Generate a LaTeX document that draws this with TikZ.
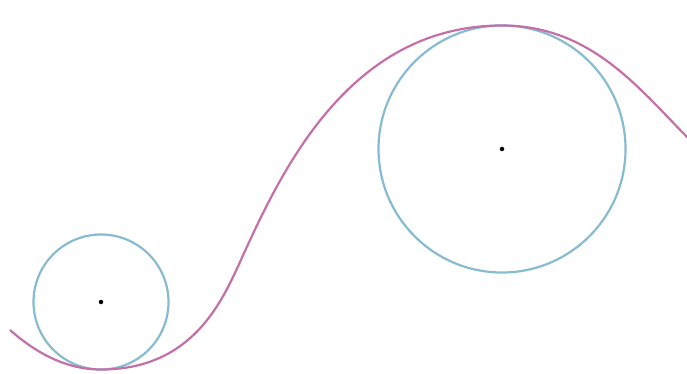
\documentclass[tikz,border=0pt]{standalone}
\begin{document}
\begin{tikzpicture}[x=1pt,y=-1pt,
  circ/.style={draw={rgb,255:red,135;green,188;blue,208},line width=2.2pt},
  curv/.style={draw={rgb,255:red,196;green,112;blue,168},line width=2.2pt},
  ctr/.style={circle,fill=black,inner sep=0pt,minimum size=4.5pt}]
\useasboundingbox (0,0) rectangle (687,374);
\coordinate (c1) at (101,302);
\coordinate (c2) at (502,149);
\draw[circ] (c1) circle (67.5);
\draw[circ] (c2) circle (123.5);
\node[ctr] (d1) at (c1) {};
\node[ctr] (d2) at (c2) {};
\coordinate (p0) at (10,330);
\coordinate (p1) at (101,369.5);
\coordinate (p2) at (240,262);
\coordinate (p3) at (502,25.5);
\coordinate (p4) at (690,140);
\draw[curv] (p0) .. controls (35,352) and (65,369.5) .. (p1)
  .. controls (191.1,369.5) and (221.1,303.5) .. (p2)
  .. controls (280,174) and (347.5,25.5) .. (p3)
  .. controls (592,25.5) and (640,90) .. (p4);
\end{tikzpicture}
\end{document}
